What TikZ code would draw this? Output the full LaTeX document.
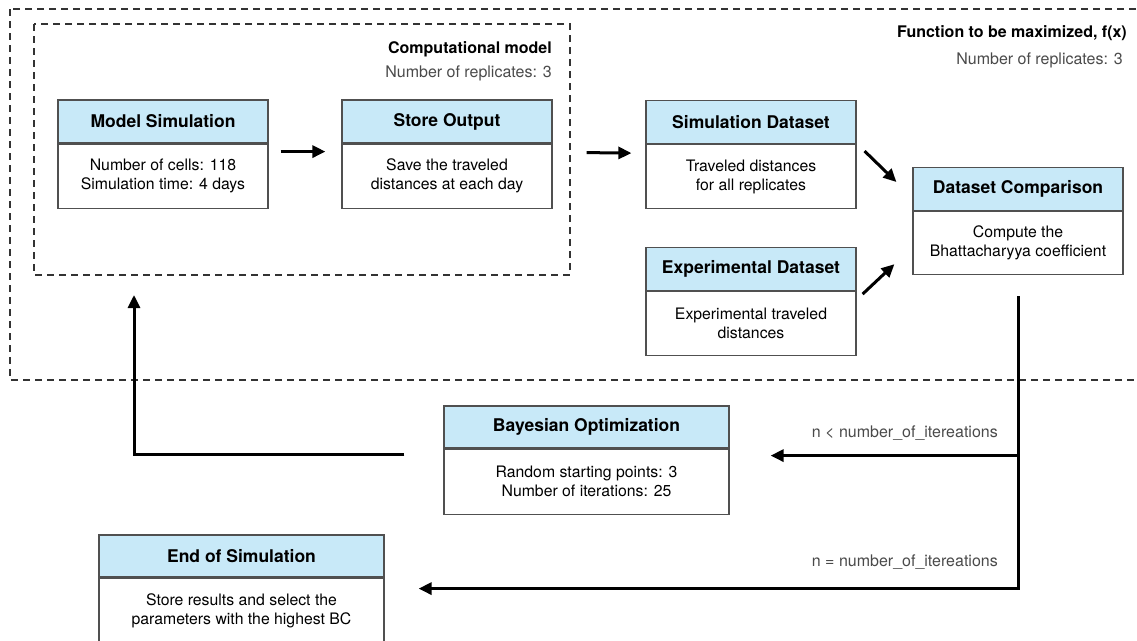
\documentclass[tikz,border=0pt]{standalone}
\usepackage{fontspec}
\setmainfont{TeX Gyre Heros}
\usetikzlibrary{arrows.meta,calc}
\definecolor{hdrblue}{HTML}{C8E9F8}
\definecolor{boxline}{HTML}{505050}
\definecolor{notegray}{HTML}{4A4A4A}
\definecolor{framegray}{HTML}{333333}

\begin{document}
\begin{tikzpicture}[x=1pt,y=-1pt,
  hdr/.style={draw=boxline, line width=1.2pt, fill=hdrblue, minimum height=43pt,
    inner sep=0pt, font=\fontsize{17.5}{21}\selectfont\bfseries},
  bdy/.style={draw=boxline, line width=1.2pt, fill=white, minimum height=64pt,
    inner sep=0pt, align=center, font=\fontsize{15.8}{19}\selectfont, anchor=north},
  narrow/.style={minimum width=210pt},
  wide/.style={minimum width=285pt},
  flow/.style={line width=3pt, -{Triangle[length=13pt,width=12pt]}},
  frame/.style={draw=framegray, line width=1.2pt, dash pattern=on 7pt off 5pt},
  title/.style={inner sep=0pt, font=\fontsize{16}{19}\selectfont\bfseries, anchor=east},
  note/.style={inner sep=0pt, text=notegray, font=\fontsize{16}{19}\selectfont, anchor=east},
]
\useasboundingbox (0,0) rectangle (1137,640);

% dashed frames: objective function and computational model
\draw[frame] (10,9) rectangle (1150,380);
\draw[frame] (34,24) rectangle (570,275);

\node[title] (fxt) at (1127,33) {Function to be maximized, f(x)};
\node[note]  (fxr) at (1123,60) {Number of replicates: 3};
\node[title] (cmt) at (552,49) {Computational model};
\node[note]  (cmr) at (552,73) {Number of replicates: 3};

% process boxes: header + body
\node[hdr, narrow] (msh) at (163,121.5) {Model Simulation};
\node[bdy, narrow] (msb) at (msh.south) {Number of cells: 118\\Simulation time: 4 days};

\node[hdr, narrow] (soh) at (447,121.5) {Store Output};
\node[bdy, narrow] (sob) at (soh.south) {Save the traveled\\distances at each day};

\node[hdr, narrow] (sdh) at (751,122) {Simulation Dataset};
\node[bdy, narrow] (sdb) at (sdh.south) {Traveled distances\\for all replicates};

\node[hdr, narrow] (exh) at (751,269) {Experimental Dataset};
\node[bdy, narrow] (exb) at (exh.south) {Experimental traveled\\distances};

\node[hdr, narrow] (dch) at (1018,189) {Dataset Comparison};
\node[bdy, narrow, minimum height=63pt] (dcb) at (dch.south) {Compute the\\Bhattacharyya coefficient};

\node[hdr, wide, minimum height=42pt] (boh) at (586.5,427) {Bayesian Optimization};
\node[bdy, wide, minimum height=65pt] (bob) at (boh.south) {Random starting points: 3\\Number of iterations: 25};

\node[hdr, wide, minimum height=42pt] (eoh) at (241.5,556) {End of Simulation};
\node[bdy, wide, minimum height=65pt] (eob) at (eoh.south) {Store results and select the\\parameters with the highest BC};

% loop condition labels
\node[note] (ltl) at (998,433) {n < number\_of\_itereations};
\node[note] (eql) at (998,562) {n = number\_of\_itereations};

% forward flow
\draw[flow] ([shift={(12,8)}]msb.north east) -- ([shift={(-16,8)}]sob.north west);
\draw[flow] ([shift={(34,9)}]sob.north east) -- ([shift={(-14,9)}]sdb.north west);
\draw[flow] ([shift={(8,7)}]sdb.north east) -- ([shift={(-16,-7)}]dch.west);
\draw[flow] ([shift={(6,3)}]exb.north east) -- ([shift={(-18,21)}]dcb.west);

% decision line: continue optimising or finish
\coordinate (boin) at ([shift={(41,7)}]boh.south east);
\draw[flow] ([shift={(0,21)}]dcb.south) |- ([shift={(34,11)}]eob.north east);
\draw[flow] (dcb.south |- boin) -- (boin);

% new parameters back to the model
\coordinate (loopend) at (134,295);
\draw[flow] ([shift={(-39,6)}]boh.south west) -| (loopend);
\end{tikzpicture}
\end{document}
